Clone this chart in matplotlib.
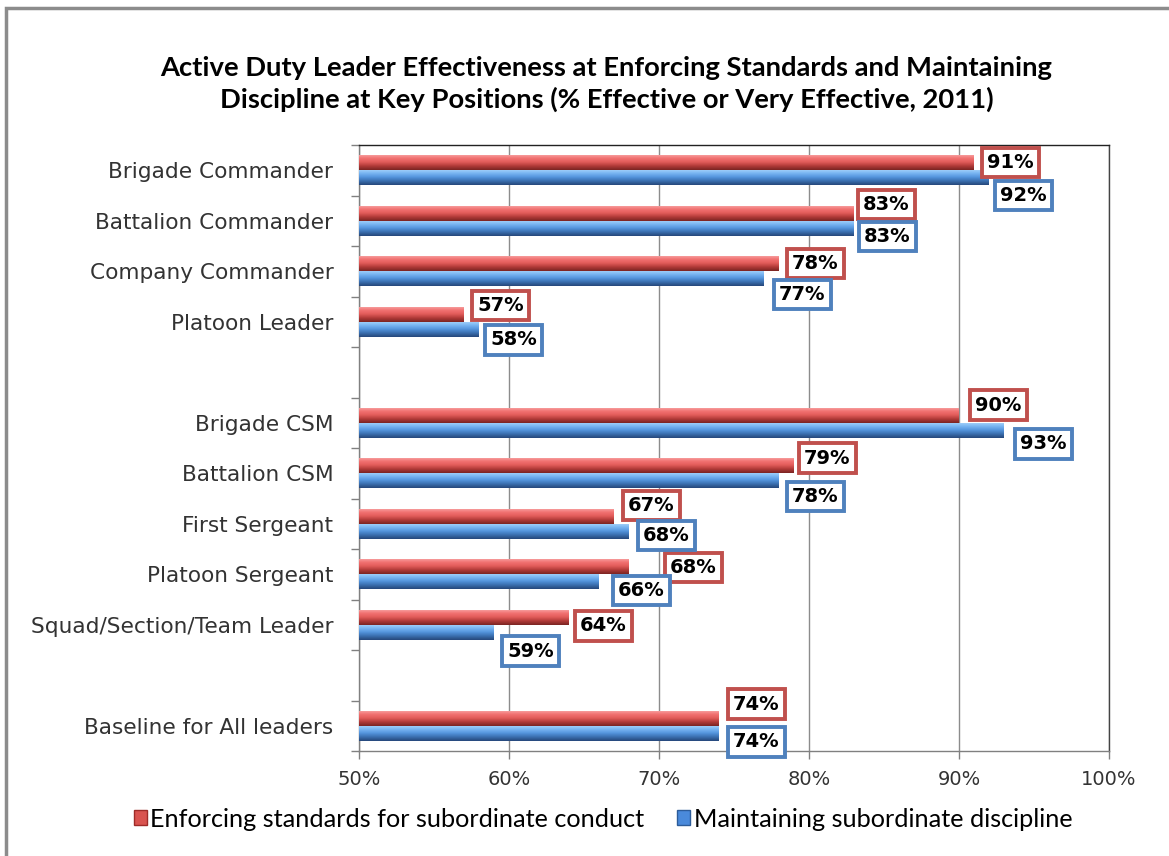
import numpy as np
import matplotlib
matplotlib.use('Agg')
import matplotlib.pyplot as plt
from matplotlib.patches import Rectangle, Patch
from matplotlib.colors import LinearSegmentedColormap

# positions, top to bottom ('' = spacer row)
positions = ['Brigade Commander', 'Battalion Commander', 'Company Commander',
             'Platoon Leader', '', 'Brigade CSM', 'Battalion CSM',
             'First Sergeant', 'Platoon Sergeant', 'Squad/Section/Team Leader',
             '', 'Baseline for All leaders']
enforcing = [91, 83, 78, 57, None, 90, 79, 67, 68, 64, None, 74]
maintaining = [92, 83, 77, 58, None, 93, 78, 68, 66, 59, None, 74]

series_names = ['Enforcing standards for subordinate conduct',
                'Maintaining subordinate discipline']

# data label placement: vertical shift (rows) and gap after bar end (px)
red_dy = [-0.15, -0.32, -0.15, -0.32, None, -0.35, -0.30, -0.36, -0.13, 0.02, None, -0.43]
red_dx = [6, 2, 6, 6, None, 9, 3, 7, 34, 4, None, 7]
blue_dy = [0.50, 0.31, 0.46, 0.36, None, 0.42, 0.46, 0.23, 0.32, 0.52, None, 0.32]
blue_dx = [4, 3, 8, 4, None, 9, 6, 7, 12, 6, None, 7]

RED = '#C0504D'
BLUE = '#4F81BD'
red_cmap = LinearSegmentedColormap.from_list(
    'r3d', ['#F7A8A8', '#F27272', '#E25C5A', '#B03A38', '#7A2422'])
blue_cmap = LinearSegmentedColormap.from_list(
    'b3d', ['#A8D4FA', '#7AB6F2', '#5495DD', '#3A6EAE', '#26477A'])

fig = plt.figure(figsize=(11.69, 8.56), dpi=100)
fig.patch.set_facecolor('white')

# outer chart frame
fig.add_artist(Rectangle((6 / 1169, -0.2), 1.2, 1.2 - 8 / 856,
                         transform=fig.transFigure, fill=False,
                         edgecolor='#8C8C8C', linewidth=2.5))

ax = fig.add_axes([359 / 1169, 105 / 856, 750 / 1169, 606 / 856])

idx = np.arange(len(positions))
h = 0.3
grad = np.linspace(0, 1, 64).reshape(-1, 1)


def shaded_bars(vals, offset, cmap):
    ys = [i + offset for i, v in zip(idx, vals) if v is not None]
    xs = [v for v in vals if v is not None]
    bars = ax.barh(ys, [x - 50 for x in xs], left=50, height=h,
                   color=cmap(0.5), edgecolor='none', zorder=3)
    for b in bars:
        x0, y0 = b.get_x(), b.get_y()
        im = ax.imshow(grad, cmap=cmap, aspect='auto', zorder=3.5,
                       extent=(x0, x0 + b.get_width(), y0 + h, y0),
                       interpolation='bicubic')
        im.set_clip_path(b)
    return ys, xs


shaded_bars(enforcing, -h / 2, red_cmap)
shaded_bars(maintaining, h / 2, blue_cmap)

FS = 14
PAD = 0.27
LW = 2.8


def value_labels(vals, dys, dxs, color):
    for i, (v, dy, dx) in enumerate(zip(vals, dys, dxs)):
        if v is None:
            continue
        # shift so the outer edge of the box sits dx px right of the bar end
        off = (dx + PAD * FS * 100 / 72 + LW * 100 / 72 / 2) * 0.72
        ax.annotate(f'{v}%', xy=(v, i + dy), xytext=(off, 0),
                    textcoords='offset points', ha='left', va='center',
                    fontsize=FS, fontweight='bold', family='DejaVu Sans',
                    zorder=6, annotation_clip=False,
                    bbox=dict(boxstyle=f'square,pad={PAD}', facecolor='white',
                              edgecolor=color, linewidth=LW))


value_labels(enforcing, red_dy, red_dx, RED)
value_labels(maintaining, blue_dy, blue_dx, BLUE)

ax.set_xlim(50, 100)
ax.set_ylim(len(positions) - 0.5, -0.5)
ax.set_xticks(range(50, 101, 10))
ax.set_xticklabels([f'{t}%' for t in range(50, 101, 10)],
                   fontsize=14, color='#333333')
ax.set_yticks(idx)
ax.set_yticklabels(positions, fontsize=15.6, color='#333333')
ax.set_yticks(np.arange(len(positions) + 1) - 0.5, minor=True)
ax.tick_params(axis='y', which='major', length=0, pad=18.5)
ax.tick_params(axis='y', which='minor', length=6, color='#808080', width=1)
ax.tick_params(axis='x', length=6, color='#808080', width=1, pad=8)
ax.grid(axis='x', color='#8C8C8C', linewidth=1, zorder=0)
ax.set_axisbelow(True)
for s in ax.spines.values():
    s.set_color('#808080')
    s.set_linewidth(1)
ax.spines['top'].set_color('#222222')
ax.spines['right'].set_color('#444444')

fig.text(0.5188, 0.902,
         'Active Duty Leader Effectiveness at Enforcing Standards and Maintaining\n'
         'Discipline at Key Positions (% Effective or Very Effective, 2011)',
         ha='center', va='center', fontsize=19.7, fontweight='bold',
         family='Lato', linespacing=1.3)

handles = [Patch(facecolor='#D9534F', edgecolor='#9E2B28'),
           Patch(facecolor='#4A8ADB', edgecolor='#2D5C99')]
fig.legend(handles, series_names, loc='center', ncol=2,
           bbox_to_anchor=(0.516, 0.043), frameon=False,
           prop={'family': 'Lato', 'size': 18.2}, handlelength=0.5,
           handleheight=0.55, handletextpad=0.15, columnspacing=1.3)

fig.savefig('out.png', dpi=100)
